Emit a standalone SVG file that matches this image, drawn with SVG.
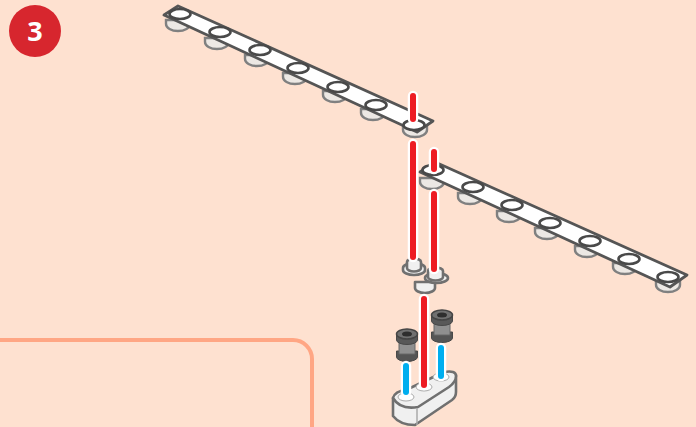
<svg xmlns="http://www.w3.org/2000/svg" width="696" height="427" viewBox="0 0 696 427">
<style>
.halo{fill:none;stroke:#fff;stroke-width:10.5;stroke-linecap:round}
.red{fill:none;stroke:#ed1c24;stroke-width:6;stroke-linecap:round}
.blue{fill:none;stroke:#00aeef;stroke-width:6;stroke-linecap:round}
.beam{fill:#fff;stroke:#555;stroke-width:2.8;stroke-linejoin:round}
.low{fill:#ece8e4;stroke:#808080;stroke-width:2.4}
.top{fill:#fff;stroke:#4a4a4a;stroke-width:2.6}
.body{fill:#f0f0f0;stroke:#707070;stroke-width:2.6;stroke-linejoin:round}
.soft{filter:url(#soft)}
</style>
<defs>
<filter id="soft" x="-5%" y="-5%" width="110%" height="110%"><feGaussianBlur stdDeviation="0.6"/></filter>
<g id="lower"><path class="low" d="M-12 0v4a12 7 0 0 0 24 0v-4z"/></g>
<g id="ring"><ellipse class="top" rx="10.500" ry="5"/></g>
<g id="spacer">
<path d="M-10.500 17h21v6a10.500 4.500 0 0 1-21 0z" fill="#555" stroke="#484848"/>
<path d="M-8 8h16v12h-16z" fill="#8f8f8f" stroke="#666"/>
<path d="M-10.500 0h21v6a10.500 4.500 0 0 1-21 0z" fill="#585858" stroke="#484848"/>
<ellipse rx="10.500" ry="5" fill="#707070" stroke="#444" stroke-width="1.500"/>
<ellipse rx="5" ry="2.500" fill="#2e2e2e"/>
</g>
</defs>
<rect width="696" height="427" fill="#fee1d0"/>
<path d="M0 340H293a19 19 0 0 1 19 19V427" fill="none" stroke="#ffa684" stroke-width="4"/>
<g id="badge"><circle cx="35" cy="31" r="26" fill="#d7262e"/>
<text x="35" y="41" text-anchor="middle" font-family="'Open Sans','Noto Sans',sans-serif" font-weight="700" font-size="27" fill="#fff">3</text></g>

<g id="beam-upper" class="soft">
<use href="#lower" x="178" y="20"/><use href="#lower" x="217" y="38"/><use href="#lower" x="257" y="55"/><use href="#lower" x="295" y="73"/><use href="#lower" x="335" y="91"/><use href="#lower" x="373" y="109"/><use href="#lower" x="415" y="126"/>
<path class="beam" d="M164 15L178 6L433 121L417 132Z"/>
<use href="#ring" x="180" y="14"/><use href="#ring" x="220" y="32"/><use href="#ring" x="260" y="50"/><use href="#ring" x="298" y="68"/><use href="#ring" x="338" y="87"/><use href="#ring" x="376" y="105"/><use href="#ring" x="414" y="125"/>
</g>
<g id="beam-lower" class="soft">
<use href="#lower" x="432" y="178"/><use href="#lower" x="470" y="193"/><use href="#lower" x="509" y="211"/><use href="#lower" x="547" y="228"/><use href="#lower" x="587" y="246"/><use href="#lower" x="625" y="263"/><use href="#lower" x="668" y="281"/>
<path class="beam" d="M420 172L435 162L687 275L670 287Z"/>
<use href="#ring" x="433" y="170"/><use href="#ring" x="473" y="187"/><use href="#ring" x="512" y="205"/><use href="#ring" x="550" y="223"/><use href="#ring" x="590" y="241"/><use href="#ring" x="629" y="259"/><use href="#ring" x="668" y="277"/>
</g>
<g id="hub" class="soft">
<path class="body" d="M415 282h20v6a10 5 0 0 1-20 0z"/>
<path class="body" d="M403 268a11 5 0 0 1 22 0v2a11 5 0 0 1-22 0z" fill="#d8d8d8"/>
<path class="body" d="M407 262a7 3.500 0 0 1 14 0v6a7 3.500 0 0 1-14 0z" fill="#fff"/>
<path class="body" d="M425 278a11.500 5 0 0 1 23 0a11.500 5 0 0 1-23 0z" fill="#d8d8d8"/>
<path class="body" d="M428 271a7.500 3.500 0 0 1 15 0v6a7.500 3.500 0 0 1-15 0z" fill="#fff"/>
</g>
<g id="brick" class="soft">
<path class="body" d="M393 398V416Q400 425 415 425L452 400Q456 397 456 392V375L444 372Z" fill="#fff"/>
<path class="body" d="M393 398Q395 391 406 390L444 372Q456 370 456 376Q456 382 449 387L418 407Q400 410 393 398Z" fill="#eeeae6"/>
<path d="M417 408V425" stroke="#aaa" stroke-width="1.500"/>
<ellipse cx="406" cy="397" rx="8" ry="4" fill="#fff" stroke="#aaa"/>
<ellipse cx="424" cy="387" rx="8" ry="4" fill="#fff" stroke="#aaa"/>
<ellipse cx="441" cy="377" rx="8" ry="4" fill="#fff" stroke="#aaa"/>
</g>
<use id="spacer-left" class="soft" href="#spacer" x="407" y="334"/>
<use id="spacer-right" class="soft" href="#spacer" x="442" y="315"/>
<g id="connectors">
<path class="halo" d="M413 96V119"/><path class="red" d="M413 96V119"/>
<path class="halo" d="M413 144V257"/><path class="red" d="M413 144V257"/>
<path class="halo" d="M434 152V169"/><path class="red" d="M434 152V169"/>
<path class="halo" d="M434 194V269"/><path class="red" d="M434 194V269"/>
<path class="halo" d="M424 299V385"/><path class="red" d="M424 299V385"/>
<path class="halo" d="M406 366V392"/><path class="blue" d="M406 366V392"/>
<path class="halo" d="M441 348V376"/><path class="blue" d="M441 348V376"/>
</g>
</svg>
